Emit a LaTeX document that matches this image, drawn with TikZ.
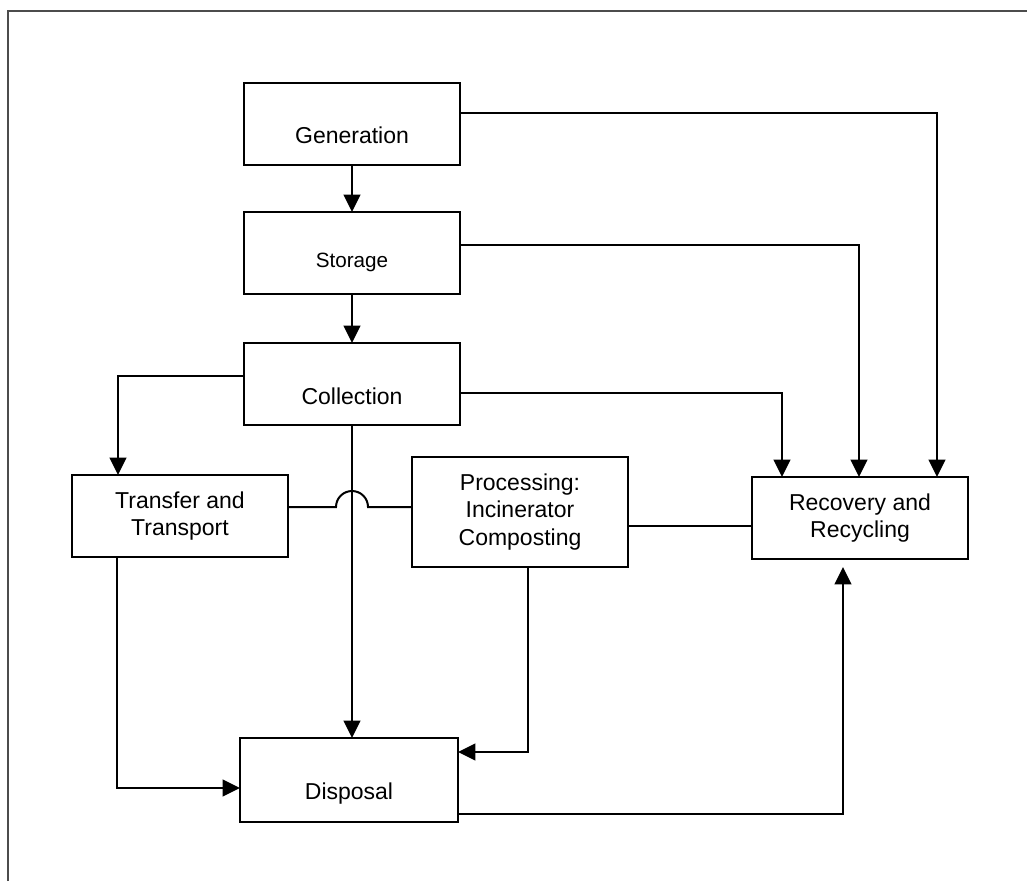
\documentclass[tikz,border=0pt]{standalone}
\usepackage{fontspec}
\setmainfont{Liberation Sans}
\usetikzlibrary{arrows.meta,calc}
\begin{document}
\begin{tikzpicture}[x=0.75pt,y=-0.75pt,
 box/.style={draw,line width=1.5pt,inner sep=0pt,outer sep=0pt,minimum width=162pt,minimum height=61.5pt},
 lbl/.style={font=\fontsize{17.25}{20.5}\selectfont,align=center,inner sep=0pt},
 conn/.style={line width=1.5pt},
 arr/.style={conn,-{Triangle[length=13pt,width=12.5pt]}},
 frameline/.style={line width=1.3pt,black!70}]
\useasboundingbox (0,0) rectangle (1027,881);
% outer frame (only top and left edges visible)
\coordinate (frTL) at (8,11);
\coordinate (frTR) at (1027,11);
\coordinate (frBL) at (8,881);
\draw[frameline] (frBL) -- (frTL) -- (frTR);

% boxes
\node[box] (gen) at (352,124) {};
\node[lbl,anchor=base] (genT) at (352,143) {Generation};
\node[box] (sto) at (352,253) {};
\node[lbl,anchor=base,font=\fontsize{15.5}{18}\selectfont] (stoT) at (352,267) {Storage};
\node[box] (col) at (352,384) {};
\node[lbl,anchor=base] (colT) at (352,404) {Collection};
\node[box,lbl] (tra) at (180,516) {Transfer and\\Transport};
\node[box,lbl,minimum height=82.5pt] (proc) at (520,512) {Processing:\\Incinerator\\Composting};
\node[box,lbl] (rec) at (860,518) {Recovery and\\Recycling};
\node[box,minimum width=163.5pt,minimum height=63pt] (dis) at (349,780) {};
\node[lbl,anchor=base] (disT) at (349,799) {Disposal};

% helper coordinates
\coordinate (cTra) at (118,376);
\coordinate (hop) at (352,507);
\coordinate (pr) at (0,526);
\coordinate (tdis) at (117,788);
\coordinate (pdis) at (528,752);
\coordinate (drec) at (843,814);
\coordinate (grec) at (937,113);
\coordinate (srec) at (859,245);
\coordinate (crec) at (782,393);

% main chain
\draw[arr] (gen.south) -- (sto.north);
\draw[arr] (sto.south) -- (col.north);
\draw[arr] (cTra -| col.west) -| (tra.north -| cTra);
\draw[arr] (col.south) -- (col.south |- dis.north);

% transfer -- processing with hop
\draw[conn] (hop -| tra.east) -- ([xshift=-12pt]hop) arc[start angle=180,end angle=0,radius=12pt] -- (hop -| proc.west);
\draw[conn] (pr -| proc.east) -- (pr -| rec.west);

% to disposal
\draw[arr] (tra.south -| tdis) |- (tdis -| dis.west);
\draw[arr] (proc.south -| pdis) |- (pdis -| dis.east);

% to recovery
\draw[arr,shorten >=6pt] (drec -| dis.east) -| (rec.south -| drec);
\draw[arr] (grec -| gen.east) -| (rec.north -| grec);
\draw[arr] (srec -| sto.east) -| (rec.north -| srec);
\draw[arr] (crec -| col.east) -| (rec.north -| crec);
\end{tikzpicture}
\end{document}
